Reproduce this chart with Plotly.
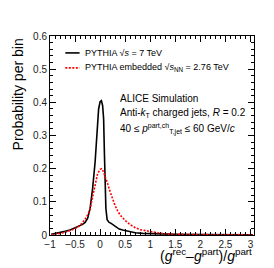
import plotly.graph_objects as go

# Black: PYTHIA sqrt(s)=7 TeV
x_pythia = [-0.975, -0.9, -0.8, -0.7, -0.6, -0.5, -0.4, -0.35, -0.3, -0.25, -0.2, -0.15, -0.1,
            -0.06, -0.03, 0.0, 0.025, 0.05, 0.07, 0.085, 0.1, 0.115, 0.14, 0.18, 0.22, 0.27,
            0.32, 0.38, 0.45, 0.55, 0.7, 0.85, 1.0, 1.2, 1.5, 2.0, 2.5, 3.05]
y_pythia = [0.002, 0.004, 0.007, 0.011, 0.015, 0.021, 0.028, 0.032, 0.038, 0.05, 0.08, 0.14, 0.22,
            0.32, 0.38, 0.402, 0.405, 0.39, 0.35, 0.25, 0.16, 0.08, 0.046, 0.038, 0.035, 0.03,
            0.024, 0.018, 0.015, 0.011, 0.007, 0.005, 0.004, 0.003, 0.002, 0.001, 0.0005, 0.0003]

# Red dotted: PYTHIA embedded sqrt(sNN)=2.76 TeV
x_embedded = [-0.975, -0.9, -0.8, -0.7, -0.6, -0.5, -0.4, -0.3, -0.25, -0.2, -0.15, -0.1, -0.05,
              0.0, 0.03, 0.06, 0.1, 0.15, 0.2, 0.25, 0.3, 0.35, 0.4, 0.5, 0.6, 0.7, 0.8, 0.95,
              1.1, 1.25, 1.5, 1.75, 2.0, 2.5, 3.05]
y_embedded = [0.001, 0.002, 0.005, 0.008, 0.013, 0.019, 0.029, 0.047, 0.06, 0.078, 0.115, 0.155, 0.185,
              0.198, 0.2, 0.193, 0.178, 0.155, 0.13, 0.107, 0.088, 0.073, 0.06, 0.044, 0.031, 0.022,
              0.016, 0.012, 0.007, 0.004, 0.002, 0.0012, 0.0008, 0.0004, 0.0002]

x_ticks = [-1, -0.5, 0, 0.5, 1, 1.5, 2, 2.5, 3]
x_ticklabels = ["\u22121", "\u22120.5", "0", "0.5", "1", "1.5", "2", "2.5", "3"]
y_ticks = [0, 0.1, 0.2, 0.3, 0.4, 0.5, 0.6]
y_ticklabels = ["0", "0.1", "0.2", "0.3", "0.4", "0.5", "0.6"]

FONT = "Liberation Sans, Arial, sans-serif"
RED_DASH = "2px,1.5px"

fig = go.Figure()
fig.add_trace(go.Scatter(x=x_pythia, y=y_pythia, mode="lines",
                         line=dict(color="black", width=1.6), showlegend=False))
fig.add_trace(go.Scatter(x=x_embedded, y=y_embedded, mode="lines",
                         line=dict(color="#ff0000", width=1.6, dash=RED_DASH), showlegend=False))

fig.update_layout(
    width=274, height=268,
    margin=dict(l=42, r=28, t=28, b=41, autoexpand=False),
    paper_bgcolor="white", plot_bgcolor="white",
    font=dict(family=FONT, color="black", size=10),
)
fig.update_xaxes(range=[-1, 3.07], tickvals=x_ticks, ticktext=x_ticklabels, automargin=False,
                 ticks="inside", ticklen=6, tickwidth=1, tickcolor="black",
                 showline=True, linecolor="black", linewidth=1, mirror="allticks",
                 showgrid=False, zeroline=False, tickfont=dict(size=10, color="#222"),
                 minor=dict(ticks="inside", dtick=0.1, ticklen=3, tickcolor="black", showgrid=False))
fig.update_yaxes(range=[0, 0.6], tickvals=y_ticks, ticktext=y_ticklabels, automargin=False,
                 ticks="inside", ticklen=6, tickwidth=1, tickcolor="black",
                 showline=True, linecolor="black", linewidth=1, mirror="allticks",
                 showgrid=False, zeroline=False, tickfont=dict(size=10, color="#222"),
                 minor=dict(ticks="inside", dtick=0.02, ticklen=3, tickcolor="black", showgrid=False))

# y-axis title
fig.add_annotation(xref="paper", yref="paper", x=-0.155, y=1.0, xanchor="center", yanchor="top",
                   textangle=-90, showarrow=False, text="Probability per bin", font=dict(size=14))

# Legend samples
fig.add_shape(type="line", xref="paper", yref="paper", x0=0.075, x1=0.145, y0=0.915, y1=0.915,
              line=dict(color="black", width=1.6))
fig.add_shape(type="line", xref="paper", yref="paper", x0=0.075, x1=0.145, y0=0.84, y1=0.84,
              line=dict(color="#ff0000", width=1.6, dash=RED_DASH))
fig.add_annotation(xref="paper", yref="paper", x=0.16, y=0.915, xanchor="left", yanchor="middle",
                   showarrow=False, text="PYTHIA \u221a<i>s</i> = 7 TeV", font=dict(size=9))
fig.add_annotation(xref="paper", yref="paper", x=0.16, y=0.84, xanchor="left", yanchor="middle",
                   showarrow=False,
                   text="PYTHIA embedded \u221a<i>s</i><sub>NN</sub> = 2.76 TeV", font=dict(size=9))

fig.add_annotation(xref="paper", yref="paper", x=0.335, y=0.685, xanchor="left", yanchor="middle",
                   showarrow=False, text="ALICE Simulation", font=dict(size=10))
fig.add_annotation(xref="paper", yref="paper", x=0.335, y=0.615, xanchor="left", yanchor="middle",
                   showarrow=False, text="Anti-<i>k</i><sub>T</sub> charged jets, <i>R</i> = 0.2",
                   font=dict(size=10))
fig.add_annotation(xref="paper", yref="paper", x=0.335, y=0.535, xanchor="left", yanchor="middle",
                   showarrow=False,
                   text="40 \u2264 <i>p</i><sup>part,ch</sup><sub>T,jet</sub> \u2264 60 GeV/<i>c</i>",
                   font=dict(size=10))

# x-axis title, right aligned
fig.add_annotation(xref="paper", yref="paper", x=1.0, y=-0.045, xanchor="right", yanchor="top",
                   showarrow=False,
                   text="(<i>g</i><sup>rec</sup>\u2013<i>g</i><sup>part</sup>)/<i>g</i><sup>part</sup>",
                   font=dict(size=14))

fig.write_html("out.html")
